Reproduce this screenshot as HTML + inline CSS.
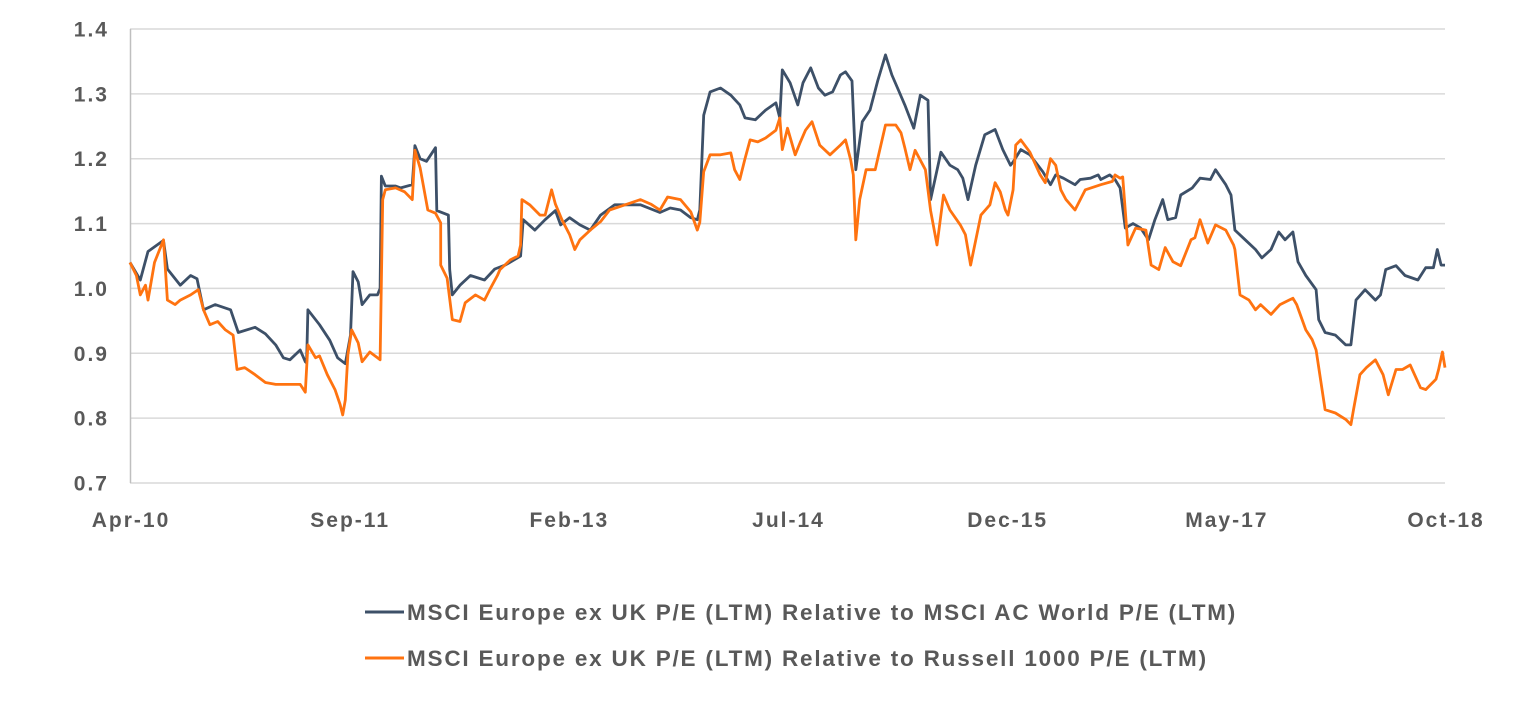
<!DOCTYPE html>
<html><head><meta charset="utf-8"><style>
body{margin:0;background:#fff;width:1522px;height:708px;overflow:hidden;font-family:"Liberation Sans",sans-serif}
svg text{font-family:"Liberation Sans",sans-serif;font-weight:bold;fill:#595959}
</style></head><body>
<svg id="chart" width="1522" height="708" viewBox="0 0 1522 708" xmlns="http://www.w3.org/2000/svg">
<g id="grid"></g>
<g id="yticks"></g>
<g id="xticks"></g>
<line x1="130.5" y1="29" x2="130.5" y2="483" stroke="#bfbfbf" stroke-width="1.5"/>
<g id="series"></g>
<g>
<g>
<line x1="365" y1="612" x2="404" y2="612" stroke="#3d5068" stroke-width="3"/>
<text x="407" y="620" font-size="22.5" letter-spacing="1.8">MSCI Europe ex UK P/E (LTM) Relative to MSCI AC World P/E (LTM)</text>
</g>
<g>
<line x1="365" y1="658" x2="404" y2="658" stroke="#ff7310" stroke-width="3"/>
<text x="407" y="666" font-size="22.5" letter-spacing="1.8">MSCI Europe ex UK P/E (LTM) Relative to Russell 1000 P/E (LTM)</text>
</g>
</g>
</svg>
<script>
// months since Apr-2010
const yTicks=[0.7,0.8,0.9,1.0,1.1,1.2,1.3,1.4];
const yTickLabels=["0.7","0.8","0.9","1.0","1.1","1.2","1.3","1.4"];
const xTickMonths=[0,17,34,51,68,85,102];
const xTickLabels=["Apr-10","Sep-11","Feb-13","Jul-14","Dec-15","May-17","Oct-18"];
const acwiMonths=[0,0.8,1.4,2.6,2.9,3.9,4.7,5.2,5.7,6.6,7.8,8.4,9.7,10.5,11.3,11.9,12.4,13.2,13.6,13.7,13.8,14.7,15.5,16.1,16.7,17.1,17.3,17.7,18.0,18.6,19.2,19.4,19.5,19.8,20.6,21.0,21.9,22.1,22.5,23.0,23.7,23.8,24.7,24.8,25.0,25.6,26.4,27.5,28.3,29.1,30.3,30.5,31.4,32.2,33.0,33.4,34.1,34.9,35.7,36.5,37.6,39.6,41.1,41.9,42.7,43.5,44.0,44.2,44.5,45.0,45.8,46.6,47.3,47.7,48.5,49.3,50.1,50.4,50.6,51.2,51.8,52.2,52.8,53.4,53.9,54.5,55.1,55.5,56.0,56.3,56.8,57.4,58.0,58.6,59.1,59.6,60.1,60.8,61.3,61.9,62.1,62.9,63.6,64.2,64.6,65.0,65.6,66.3,67.1,67.7,68.3,68.5,69.1,69.8,70.8,71.4,71.8,72.4,73.3,73.7,74.5,75.1,75.3,76.0,76.4,76.8,77.2,77.8,78.4,79.0,79.5,80.1,80.5,81.1,81.5,82.4,83.0,83.8,84.2,85.0,85.4,85.7,86.5,87.3,87.8,88.5,89.1,89.6,90.2,90.6,91.2,92.0,92.2,92.7,93.5,94.3,94.7,95.1,95.8,96.6,97.0,97.4,98.2,98.9,99.9,100.5,101.1,101.4,101.7,102];
const acwiValues=[1.04,1.013,1.057,1.074,1.03,1.005,1.02,1.015,0.967,0.975,0.967,0.932,0.94,0.93,0.913,0.893,0.89,0.905,0.887,0.885,0.967,0.944,0.92,0.893,0.884,0.928,1.026,1.01,0.975,0.99,0.99,1.0,1.173,1.158,1.158,1.155,1.16,1.22,1.2,1.196,1.217,1.12,1.113,1.029,0.99,1.005,1.02,1.013,1.03,1.036,1.05,1.106,1.09,1.106,1.12,1.098,1.109,1.098,1.09,1.113,1.129,1.129,1.117,1.124,1.121,1.109,1.106,1.121,1.267,1.303,1.309,1.298,1.283,1.263,1.26,1.275,1.286,1.263,1.337,1.317,1.283,1.317,1.34,1.309,1.298,1.303,1.329,1.334,1.32,1.183,1.257,1.275,1.32,1.36,1.329,1.306,1.283,1.247,1.298,1.29,1.137,1.21,1.19,1.183,1.17,1.137,1.19,1.237,1.245,1.214,1.19,1.195,1.214,1.206,1.18,1.16,1.175,1.17,1.16,1.168,1.17,1.175,1.168,1.175,1.168,1.155,1.093,1.1,1.093,1.075,1.106,1.137,1.106,1.109,1.144,1.155,1.17,1.168,1.183,1.16,1.144,1.09,1.075,1.06,1.047,1.06,1.087,1.075,1.087,1.041,1.02,0.998,0.952,0.932,0.928,0.913,0.913,0.982,0.998,0.982,0.99,1.029,1.035,1.02,1.013,1.032,1.032,1.06,1.036,1.036];
const russellMonths=[0,0.5,0.8,1.2,1.4,1.9,2.6,2.9,3.5,3.9,4.7,5.3,5.7,6.2,6.8,7.4,8.0,8.3,8.9,9.7,10.5,11.3,12.0,13.2,13.6,13.8,14.4,14.7,15.3,15.9,16.3,16.5,16.7,16.9,17.2,17.7,18.0,18.6,19.2,19.4,19.6,19.8,20.6,21.3,21.9,22.1,22.5,23.1,23.7,24.1,24.1,24.6,25.0,25.6,26.0,26.8,27.5,27.9,28.5,28.7,29.5,30.1,30.3,30.4,31.0,31.8,32.2,32.7,33.0,33.5,34.1,34.5,34.9,35.7,36.5,37.2,38.4,39.6,40.4,41.1,41.7,42.7,43.5,44.0,44.2,44.5,45.0,45.8,46.6,46.9,47.3,47.7,48.1,48.7,49.3,50.1,50.4,50.6,51.0,51.6,52.0,52.4,52.9,53.5,54.3,55.1,55.5,55.9,56.1,56.3,56.6,57.1,57.8,58.6,59.4,59.8,60.1,60.5,60.9,61.7,62.1,62.6,63.1,63.6,64.4,64.8,65.2,66.0,66.7,67.1,67.5,67.9,68.1,68.5,68.7,69.1,69.8,70.6,71.0,71.4,71.8,72.2,72.6,73.3,74.1,75.3,76.2,76.4,76.8,77.0,77.4,78.0,78.8,79.2,79.8,80.3,80.9,81.5,82.3,82.6,83.0,83.6,84.2,85.0,85.6,85.7,86.1,86.8,87.3,87.7,88.5,89.2,89.9,90.2,90.5,91.2,91.7,92.0,92.7,93.5,94.3,94.7,94.9,95.4,95.9,96.6,97.2,97.6,98.2,98.7,99.3,100.1,100.5,101.3,101.5,101.8,102];
const russellValues=[1.04,1.02,0.99,1.005,0.982,1.04,1.075,0.982,0.975,0.982,0.99,0.998,0.967,0.944,0.949,0.936,0.928,0.875,0.878,0.867,0.855,0.852,0.852,0.852,0.84,0.913,0.893,0.896,0.867,0.844,0.821,0.805,0.828,0.898,0.936,0.916,0.887,0.902,0.893,0.89,1.137,1.152,1.155,1.149,1.137,1.213,1.186,1.121,1.116,1.101,1.036,1.016,0.952,0.949,0.978,0.99,0.982,0.998,1.02,1.029,1.044,1.05,1.067,1.137,1.129,1.113,1.113,1.152,1.13,1.106,1.083,1.06,1.075,1.09,1.103,1.121,1.129,1.137,1.13,1.121,1.141,1.137,1.118,1.09,1.102,1.18,1.206,1.206,1.209,1.183,1.168,1.2,1.229,1.226,1.232,1.244,1.263,1.214,1.247,1.206,1.226,1.244,1.257,1.221,1.206,1.221,1.229,1.198,1.175,1.075,1.137,1.183,1.183,1.252,1.252,1.24,1.217,1.183,1.213,1.183,1.12,1.067,1.144,1.121,1.098,1.083,1.036,1.113,1.129,1.163,1.149,1.121,1.113,1.152,1.221,1.229,1.21,1.175,1.163,1.2,1.19,1.152,1.137,1.121,1.152,1.16,1.165,1.175,1.17,1.172,1.067,1.093,1.09,1.036,1.029,1.063,1.041,1.035,1.075,1.078,1.106,1.07,1.098,1.09,1.067,1.06,0.99,0.982,0.967,0.975,0.96,0.975,0.982,0.985,0.975,0.936,0.921,0.905,0.813,0.808,0.798,0.79,0.813,0.867,0.878,0.89,0.867,0.836,0.875,0.875,0.882,0.847,0.844,0.86,0.875,0.902,0.878,0.872];

const X0=130,X1=1445,Y0=483,Y1=29,M0=0,M1=102,V0=0.7,V1=1.4;
const xs=m=>X0+(m-M0)/(M1-M0)*(X1-X0);
const ys=v=>Y0-(v-V0)/(V1-V0)*(Y0-Y1);
const NS="http://www.w3.org/2000/svg";
const grid=document.getElementById('grid'),yt=document.getElementById('yticks'),xt=document.getElementById('xticks'),ser=document.getElementById('series');
yTicks.forEach((v,i)=>{
  const l=document.createElementNS(NS,'line');
  
  
  l.setAttribute('x1',X0);l.setAttribute('x2',X1);l.setAttribute('y1',ys(v));l.setAttribute('y2',ys(v));
  l.setAttribute('stroke','#d9d9d9');l.setAttribute('stroke-width','1.5');
  grid.appendChild(l);
  const t=document.createElementNS(NS,'text');
  
  
  t.setAttribute('x',109);t.setAttribute('y',ys(v)+7.5);t.setAttribute('text-anchor','end');t.setAttribute('font-size','21');t.setAttribute('letter-spacing','2');
  t.textContent=yTickLabels[i];yt.appendChild(t);
});
xTickMonths.forEach((m,i)=>{
  const t=document.createElementNS(NS,'text');
  
  
  t.setAttribute('x',xs(m)+1);t.setAttribute('y',527);t.setAttribute('text-anchor','middle');t.setAttribute('font-size','21');t.setAttribute('letter-spacing','2');
  t.textContent=xTickLabels[i];xt.appendChild(t);
});
function draw(ms,vs,color,name){
  const p=document.createElementNS(NS,'polyline');
  
  
  p.setAttribute('points',ms.map((m,i)=>xs(m).toFixed(1)+','+ys(vs[i]).toFixed(1)).join(' '));
  p.setAttribute('fill','none');p.setAttribute('stroke',color);p.setAttribute('stroke-width','2.8');p.setAttribute('stroke-linejoin','round');
  ser.appendChild(p);
}
draw(acwiMonths,acwiValues,'#3d5068','line-acwi-relative');
draw(russellMonths,russellValues,'#ff7310','line-russell-relative');
</script>
</body></html>
